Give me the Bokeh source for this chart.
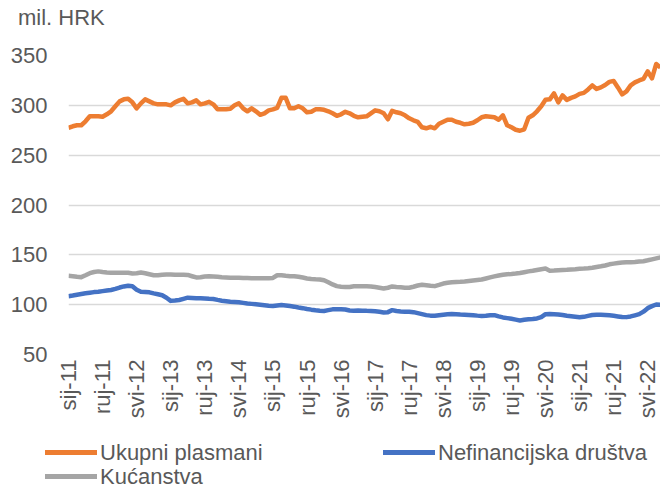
import math
from bokeh.plotting import figure
from bokeh.layouts import column
from bokeh.models import Range1d, FixedTicker, ColumnDataSource, Div
from bokeh.embed import file_html
from bokeh.resources import INLINE

# Monthly data, Jan 2011 - Aug 2022 (mil. HRK)
ukupni = [277.5,279,280,280,284,289,289,289,288.5,291,
          294,299,304,306,306.5,303,297,302,306,304,
          302,301,301,301,300,303,305,306.5,302,303,
          305,301,302,303.5,301,296,296,296,296.5,300,
          302,297,294,297,294,290.5,292,295,296,297.5,
          307.5,307.5,297,297,299,297,293,293.5,296,296,
          295.5,294,292,289.5,291,293.5,292,289.5,288,288.5,
          289,292,295,294,292,286,294.5,293,292,290,
          287,285,283.5,278,277,278.5,277,281.5,283.5,285.5,
          285.5,283.5,282.5,281,281.5,282.5,285,288,289,288.5,
          288,285.5,290,280,278,275.5,274.5,276,287.5,290,
          294,299,305.5,306,312,303,310,305.5,307.5,309,
          311.5,312.5,316,320,316.5,318,320.4,323.5,324.5,318,
          311,314,320,323,325,326.5,334,327,341.5,338]

nefinancijska = [108.5,109.2,110,110.7,111.4,112,112.6,113,113.6,114.2,
                 114.7,115.8,117.2,118.3,119,118.5,115,113,112.8,112.4,
                 111.3,110.4,109.5,107,103.8,104.2,104.7,105.8,107,106.8,
                 106.5,106.4,106.2,105.9,105.7,104.8,104,103.5,103,102.7,
                 102.4,101.8,101.2,100.8,100.4,100,99.5,99,98.7,99.2,
                 99.7,99.2,98.6,98,97.2,96.5,95.7,95,94.4,94,
                 93.7,94.5,95.3,95.4,95.4,95.2,94.2,94,94.2,94,
                 93.8,93.7,93.3,92.8,92.2,92.5,94.5,93.6,93.2,93,
                 93,92.5,91.5,90.5,89.5,89,88.8,89.3,89.8,90.3,
                 90.7,90.4,90.1,89.9,89.7,89.4,89,88.7,88.8,89.3,
                 89.5,88.2,87.2,86.5,85.8,85,84.2,84.8,85.3,85.7,
                 86.2,87.5,90.5,90.6,90.4,90.2,89.6,88.9,88.4,87.9,
                 87.4,87.8,88.8,89.7,89.9,89.9,89.7,89.3,88.8,88.2,
                 87.6,87.5,88.2,89.3,90.5,93,96.5,98.5,100.2,100]

kucanstva = [129,128.6,128,127.6,129.5,131.6,132.8,133.4,132.8,132.3,
             132,132,132,132,132,131.3,131.5,132.2,131.5,130.5,
             129.5,129.5,130,130.3,130.3,130,130,130,129.8,128.5,
             127.3,127.5,128.3,128.6,128.3,128,127.6,127.3,127,127,
             127,126.8,126.7,126.6,126.6,126.6,126.6,126.6,126.8,129.5,
             129.5,129,128.6,128.6,128,127.2,126.3,125.8,125.5,125.3,
             124.5,122.5,120.3,118.6,118,117.8,117.8,118.5,118.5,118.4,
             118.4,118.3,117.8,117,116.2,117,118.3,117.8,117.4,117,
             117,118,119.2,120,119.5,119,118.6,119.8,121.2,122,
             122.5,122.8,123,123.3,123.8,124.3,124.8,125.3,126.3,127.4,
             128.4,129.3,130,130.5,130.8,131.2,131.8,132.6,133.4,134,
             134.8,135.6,136.2,134,134.2,134.5,134.8,135,135.3,135.6,
             136,136.2,136.5,137,137.8,138.5,139.3,140.5,141.2,141.8,
             142.2,142.5,142.6,142.8,143.2,143.6,144.5,145.5,146.5,147.5]

tick_positions = [0, 8, 16, 24, 32, 40, 48, 56, 64, 72, 80, 88, 96, 104, 112, 120, 128, 136]
tick_labels = ["sij-11", "ruj-11", "svi-12", "sij-13", "ruj-13", "svi-14", "sij-15", "ruj-15",
               "svi-16", "sij-17", "ruj-17", "svi-18", "sij-19", "ruj-19", "svi-20", "sij-21",
               "ruj-21", "svi-22"]
y_ticks = [50, 100, 150, 200, 250, 300, 350]

series_names = ["Ukupni plasmani", "Nefinancijska društva", "Kućanstva"]
series_colors = ["#ED7D31", "#4472C4", "#A5A5A5"]
unit_label = "mil. HRK"

FONT = "Liberation Sans"
TXT = "#595959"
FS = "22px"

n = len(ukupni)
src = ColumnDataSource(dict(x=list(range(n)), u=ukupni, nf=nefinancijska, k=kucanstva))

# ---------------- header (unit label) ----------------
header = Div(width=660, height=36, margin=0,
             text=(f'<div style="width:660px;height:36px;padding-left:18px;box-sizing:border-box;'
                   f'line-height:36px;font-family:\'{FONT}\';font-size:{FS};color:{TXT};'
                   f'white-space:nowrap">{unit_label}</div>'))

# ---------------- main chart ----------------
p = figure(width=660, height=394, output_backend="svg", toolbar_location=None,
           x_range=Range1d(0, n - 1), y_range=Range1d(50, 350),
           min_border_left=68, min_border_right=0, min_border_top=19, min_border_bottom=76)
p.outline_line_color = None
p.background_fill_color = "white"
p.border_fill_color = "white"

r_k = p.line("x", "k", source=src, line_color=series_colors[2], line_width=4.5, line_join="round")
r_n = p.line("x", "nf", source=src, line_color=series_colors[1], line_width=4.5, line_join="round")
r_u = p.line("x", "u", source=src, line_color=series_colors[0], line_width=4.5, line_join="round")

p.xgrid.grid_line_color = None
p.ygrid.grid_line_color = "#D9D9D9"
p.ygrid.grid_line_width = 1.3
p.yaxis.ticker = FixedTicker(ticks=y_ticks)

for ax in (p.xaxis[0], p.yaxis[0]):
    ax.axis_line_color = None
    ax.major_tick_line_color = None
    ax.minor_tick_line_color = None
    ax.major_tick_out = 0
    ax.major_tick_in = 0
    ax.major_label_text_font = FONT
    ax.major_label_text_font_size = FS
    ax.major_label_text_color = TXT

p.yaxis.major_label_standoff = 21
p.xaxis.ticker = FixedTicker(ticks=tick_positions)
p.xaxis.major_label_overrides = {t: l for t, l in zip(tick_positions, tick_labels)}
p.xaxis.major_label_orientation = math.pi / 2
p.xaxis.major_label_standoff = 5

# ---------------- legend strip ----------------
legend_slots = [(45, 10), (383, 10), (45, 34)]  # (left, top) of each entry in the strip


def entry(name, color, left, top):
    return (f'<div style="position:absolute;left:{left}px;top:{top}px;height:24px;'
            f'line-height:24px;white-space:nowrap">'
            f'<span style="display:inline-block;width:52px;height:5px;background:{color};'
            f'vertical-align:middle;margin-right:3px;position:relative;top:-1px"></span>'
            f'<span style="vertical-align:middle">{name}</span></div>')


legend_html = (f'<div style="position:relative;width:660px;height:59px;'
               f'font-family:\'{FONT}\';font-size:{FS};color:{TXT}">'
               + "".join(entry(nm, c, l, t) for nm, c, (l, t) in
                         zip(series_names, series_colors, legend_slots))
               + '</div>')
legend = Div(width=660, height=59, margin=0, text=legend_html)

layout = column(header, p, legend, spacing=0)
open("out.html", "w").write(file_html(layout, INLINE))
